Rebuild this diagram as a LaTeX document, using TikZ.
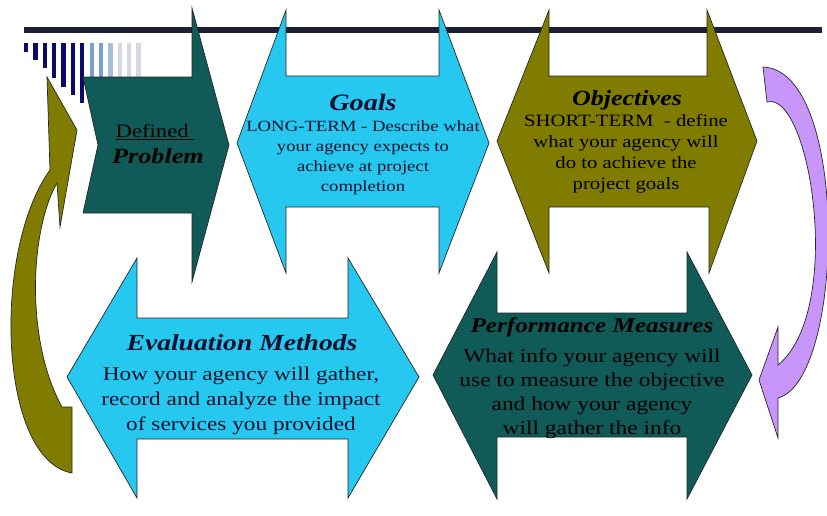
\documentclass[tikz,border=0pt]{standalone}
\usepackage{fontspec}
\setmainfont{Liberation Serif}[FakeStretch=1.2]

\definecolor{barnavy}{RGB}{30,30,55}
\definecolor{stripenavy}{RGB}{10,10,105}
\definecolor{stripeblue}{RGB}{120,160,210}
\definecolor{stripepale}{RGB}{165,190,222}
\definecolor{stripegray}{RGB}{215,215,222}
\definecolor{probteal}{RGB}{16,90,88}
\definecolor{goalcyan}{RGB}{38,200,240}
\definecolor{objolive}{RGB}{128,124,0}
\definecolor{loopviolet}{RGB}{200,150,250}
\definecolor{inkdark}{RGB}{12,18,45}

\begin{document}
\begin{tikzpicture}[x=1pt,y=-1pt,
  outline/.style={draw=black!85,line width=0.7pt,line join=miter},
  boxtitle/.style={font=\fontsize{#1}{#1}\selectfont\bfseries\itshape,text=inkdark,inner sep=0pt},
  boxbody/.style 2 args={font=\fontsize{#1}{#2}\selectfont,align=center,text=inkdark,inner sep=0pt}]
%\draw [help lines] (0,0) grid (827,515);
\useasboundingbox (0,0) rectangle (827,515);

% top bar and stripes
\fill [barnavy] (24,27) rectangle (822,33);
\fill [stripenavy] (24,43) rectangle (28.3,52);
\fill [stripenavy] (33.4,43) rectangle (37.7,60);
\fill [stripenavy] (42.7,43) rectangle (47,68);
\fill [stripenavy] (52.1,43) rectangle (56.4,78);
\fill [stripenavy] (61.4,43) rectangle (65.7,87);
\fill [stripenavy] (70.8,43) rectangle (75.1,95);
\fill [stripenavy] (80.1,43) rectangle (84.4,103);
\fill [stripeblue] (89.5,43) rectangle (93.8,90);
\fill [stripeblue] (98.8,43) rectangle (103.1,90);
\fill [stripepale] (108.2,43) rectangle (112.5,90);
\fill [stripegray] (117.5,43) rectangle (121.8,90);
\fill [stripegray] (126.9,43) rectangle (131.2,90);
\fill [stripegray] (136.2,43) rectangle (140.5,90);

% curved arrows at the sides
\draw [outline, fill=objolive] (47,77) -- (77,130) -- (60,227) -- (57,183)
  .. controls (30,230) and (25,340) .. (62,407) -- (72,407) -- (72,473)
  .. controls (-2,460) and (-8,250) .. (50,170) -- cycle;
\draw [outline, fill=loopviolet] (763,67) -- (767,102)
  .. controls (810,90) and (845,310) .. (778,365) -- (778,327) -- (759,380)
  -- (778,438) -- (778,398) .. controls (845,380) and (850,70) .. (763,67) -- cycle;

% upper row
\draw [outline, fill=probteal] (83,77) -- (192,77) -- (192,8) -- (229,145)
  -- (192,282) -- (192,213) -- (83,213) -- (98,145) -- cycle;
\draw [outline, fill=goalcyan] (237,143) -- (286,10) -- (286,76) -- (439,76)
  -- (439,10) -- (489,143) -- (439,273) -- (439,207) -- (286,207) -- (286,273) -- cycle;
\draw [outline, fill=objolive] (497,141) -- (549,10) -- (549,76) -- (707,76)
  -- (707,10) -- (757,141) -- (709,273) -- (709,207) -- (549,207) -- (549,273) -- cycle;

% lower row
\draw [outline, fill=goalcyan] (67,377) -- (137,258) -- (137,318) -- (348,318)
  -- (348,258) -- (419,377) -- (348,498) -- (348,439) -- (137,439) -- (137,498) -- cycle;
\draw [outline, fill=probteal] (433,375) -- (497,252) -- (497,313) -- (687,313)
  -- (687,252) -- (752,375) -- (687,499) -- (687,437) -- (497,437) -- (497,499) -- cycle;

\node [boxbody={18.9}{20}, text=black] (defined) at (155,132) {\underline{Defined\ }};
\node [boxtitle=21.8, text=black] (problem) at (158,156) {Problem};

\node [boxtitle=23.5] (goals) at (363,102) {Goals};
\node [boxbody={15.6}{20.1}] (goalstext) at (363,158)
  {LONG-TERM - Describe what\\ your agency expects to\\ achieve at project\\ completion};

\node [boxtitle=21.7, text=black] (objectives) at (627,100) {Objectives};
\node [boxbody={17.3}{21}, text=black] (objtext) at (626,154)
  {SHORT-TERM\ \ - define\\ what your agency will\\ do to achieve the\\ project goals};

\node [boxtitle=23] (evaluation) at (242,343) {Evaluation Methods};
\node [boxbody={19.4}{25}] (evaltext) at (241,401)
  {How your agency will gather,\\ record and analyze the impact\\ of services you provided};

\node [boxtitle=21, text=black] (performance) at (592,327) {Performance Measures};
\node [boxbody={19.5}{24}, text=black] (perftext) at (592,394)
  {What info your agency will\\ use to measure the objective\\ and how your agency\\ will gather the info};

\end{tikzpicture}
\end{document}
